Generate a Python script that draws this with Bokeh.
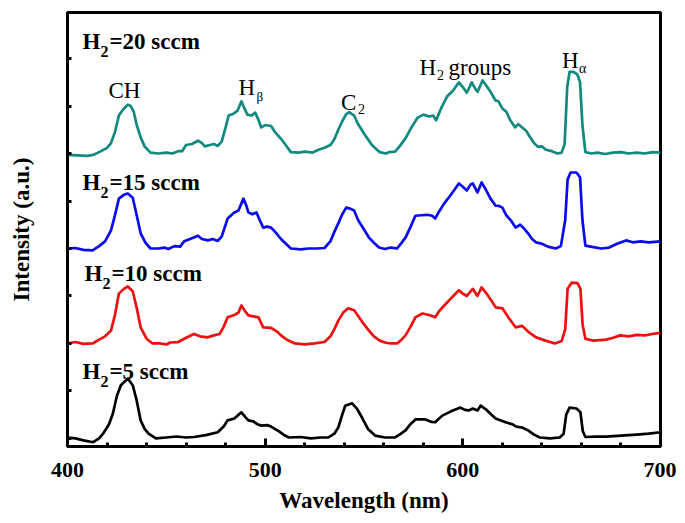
from bokeh.plotting import figure
from bokeh.models import Range1d, FixedTicker, Label
from bokeh.embed import file_html
from bokeh.resources import INLINE

# ---------------- data ----------------
wl_20 = [400, 405, 410, 413, 417, 420, 422, 424, 426, 428, 430.5, 432, 433.5, 435, 437, 439, 442, 446, 450, 453,
         456, 458, 460, 463, 466, 468, 469.5, 472, 474, 476, 478, 480, 481.5, 484, 486, 488, 489.5, 491, 493, 495,
         496.5, 498, 500, 503, 505, 508, 510, 513, 517, 520, 524, 527, 530, 533, 535, 537, 539, 541, 542.5, 545,
         547, 550, 552, 554, 556, 558, 561, 563, 565.7, 568, 571, 574, 577, 580, 583, 585, 586.5, 589, 592, 595,
         598, 600, 602, 604.5, 606.5, 607.5, 610, 612, 614, 616.5, 618, 620, 622, 624, 626.5, 628, 630, 632, 634,
         636, 638, 640, 642, 645, 648, 650, 651.5, 652.8, 654, 656, 658, 659.3, 660.5, 662, 665, 668, 672, 676,
         680, 684, 688, 692, 696, 700]
int_20 = [5.97, 5.96, 5.95, 5.97, 6.05, 6.12, 6.22, 6.45, 6.8, 6.92, 7.03, 7.0, 6.88, 6.6, 6.34, 6.15, 6.02, 6.0,
          6.02, 6.0, 6.05, 6.05, 6.18, 6.2, 6.27, 6.22, 6.15, 6.18, 6.2, 6.16, 6.25, 6.55, 6.8, 6.84, 6.9, 7.1,
          6.95, 6.82, 6.8, 6.86, 6.72, 6.55, 6.6, 6.58, 6.45, 6.31, 6.2, 6.03, 6.02, 6.04, 6.02, 6.08, 6.12, 6.18,
          6.3, 6.5, 6.68, 6.83, 6.87, 6.8, 6.62, 6.42, 6.3, 6.18, 6.1, 6.03, 6.0, 6.03, 6.04, 6.15, 6.32, 6.55,
          6.75, 6.82, 6.78, 6.8, 6.7, 6.95, 7.2, 7.32, 7.5, 7.4, 7.28, 7.5, 7.35, 7.3, 7.54, 7.42, 7.3, 7.12, 7.1,
          6.95, 6.88, 6.7, 6.55, 6.62, 6.55, 6.48, 6.35, 6.22, 6.14, 6.15, 6.08, 6.05, 6.0, 6.02, 6.2, 7.4, 7.72,
          7.72, 7.66, 7.5, 6.6, 6.03, 6.0, 6.02, 5.99, 6.02, 6.03, 6.0, 6.02, 6.0, 6.03, 6.02]

wl_15 = [400, 404, 408, 412.7, 416, 419, 422, 424, 426, 428.5, 430.5, 433, 435, 437, 439.5, 442, 446, 449, 451,
         454, 457, 459, 462, 466, 468, 471, 473.5, 476, 478, 481, 484.4, 486.5, 489, 490.5, 491.5, 493.5, 495.6,
         497, 499, 501, 503, 505.5, 508, 510.5, 513, 518, 522, 526, 530, 533, 535, 537, 539, 541, 543, 545, 547,
         550, 552.5, 555, 557.6, 560.6, 563.5, 566.7, 569, 571, 573.5, 576, 579, 582, 584.5, 586, 588, 590.6,
         593, 595.5, 598, 600, 602, 604, 605, 607.4, 609.5, 611.5, 614, 616.6, 618, 620, 622, 624.5, 626.7, 629,
         631, 633, 635, 637, 640, 643, 647, 649.6, 651.8, 653, 654.5, 657.5, 659.3, 660.5, 662, 666, 670, 674,
         678, 682.6, 686, 690, 694, 700]
int_15 = [4.0, 4.01, 3.97, 3.96, 4.05, 4.15, 4.38, 4.7, 5.05, 5.13, 5.16, 5.07, 4.7, 4.32, 4.12, 4.0, 4.0, 4.02,
          3.99, 4.05, 4.04, 4.15, 4.2, 4.27, 4.2, 4.17, 4.2, 4.16, 4.25, 4.63, 4.76, 4.8, 5.05, 4.9, 4.76, 4.72,
          4.76, 4.62, 4.44, 4.46, 4.44, 4.33, 4.2, 4.1, 4.0, 3.98, 4.0, 4.0, 4.01, 4.15, 4.35, 4.53, 4.72, 4.86,
          4.84, 4.8, 4.6, 4.4, 4.23, 4.12, 4.02, 3.99, 4.02, 4.0, 4.12, 4.23, 4.45, 4.69, 4.7, 4.71, 4.69, 4.63,
          4.78, 4.95, 5.08, 5.22, 5.37, 5.3, 5.22, 5.35, 5.37, 5.18, 5.39, 5.25, 5.05, 4.9, 4.9, 4.86, 4.7, 4.58,
          4.44, 4.5, 4.42, 4.32, 4.2, 4.13, 4.1, 4.04, 4.0, 4.05, 4.6, 5.45, 5.6, 5.6, 5.5, 4.6, 4.06, 4.03, 4.0,
          4.02, 4.1, 4.17, 4.13, 4.15, 4.13, 4.15]

wl_10 = [400, 404, 408, 412.7, 416, 419, 422, 424, 426, 428.5, 430.5, 433, 435, 437, 440, 443, 447, 450, 452,
         456, 460, 464, 467, 471, 474, 477, 479, 481, 484.4, 486.5, 488, 490, 491.5, 494, 496.6, 499, 503, 506,
         508, 511, 515, 520, 525, 530, 533, 535, 537, 539.5, 542, 545, 547.5, 550, 552.5, 555, 558, 560.6, 563.5,
         566.7, 569, 571, 573.5, 576, 579.5, 583, 586, 588, 590.6, 594, 598, 600, 602, 605, 607.4, 609.5, 612,
         614.5, 616.6, 620, 623, 626.7, 630, 633, 637, 641, 646.6, 650, 651.8, 653, 655, 658, 659.5, 660.6, 662,
         666, 672.5, 676, 679.6, 684, 688, 692, 696, 700]
int_10 = [2.0, 2.03, 1.99, 2.0, 2.08, 2.15, 2.27, 2.6, 3.05, 3.15, 3.2, 3.1, 2.75, 2.34, 2.1, 2.0, 2.0, 1.98,
          2.02, 2.03, 2.12, 2.2, 2.15, 2.13, 2.17, 2.2, 2.35, 2.55, 2.6, 2.65, 2.8, 2.67, 2.59, 2.57, 2.55, 2.34,
          2.33, 2.25, 2.17, 2.08, 2.0, 1.98, 2.0, 2.03, 2.15, 2.3, 2.48, 2.65, 2.74, 2.7, 2.55, 2.4, 2.27, 2.15,
          2.06, 2.02, 2.0, 2.0, 2.08, 2.17, 2.35, 2.55, 2.63, 2.6, 2.55, 2.68, 2.8, 2.95, 3.12, 3.05, 3.0, 3.15,
          3.0, 3.18, 3.05, 2.9, 2.76, 2.74, 2.55, 2.34, 2.37, 2.25, 2.13, 2.07, 2.0, 2.05, 2.3, 3.15, 3.28, 3.27,
          3.15, 2.4, 2.1, 2.06, 2.08, 2.12, 2.17, 2.15, 2.18, 2.17, 2.2, 2.22]

wl_5 = [400, 404, 408, 413, 416, 418, 421, 423, 425, 427, 430.5, 433, 435, 437, 439, 441, 444.7, 450, 455, 460,
        464, 470, 476, 479, 481, 484.4, 486, 488, 490, 491.5, 494, 496, 498, 501, 503, 507, 510, 512, 518, 523,
        528, 532, 535, 537, 539, 540.5, 544, 546.5, 549, 552, 555.6, 560.6, 565.7, 568, 571, 573.5, 576, 581,
        584, 586, 589.6, 594, 598.8, 601, 603, 605, 607.4, 609, 612, 614.5, 616.6, 621.6, 625, 627, 630, 633,
        636, 639, 644, 649, 651, 652.3, 654, 657.5, 659.5, 660.7, 662, 667, 672.5, 680, 688, 694, 700]
int_5 = [0.02, 0.0, -0.04, -0.08, 0.0, 0.1, 0.3, 0.53, 0.9, 1.12, 1.26, 1.12, 0.8, 0.38, 0.2, 0.1, 0.0, 0.02,
         0.04, 0.02, 0.03, 0.07, 0.13, 0.25, 0.38, 0.42, 0.48, 0.55, 0.45, 0.38, 0.36, 0.3, 0.27, 0.28, 0.25,
         0.15, 0.06, 0.02, 0.03, 0.0, 0.02, 0.02, 0.1, 0.23, 0.5, 0.69, 0.74, 0.62, 0.44, 0.2, 0.06, 0.02, 0.02,
         0.08, 0.17, 0.3, 0.4, 0.4, 0.35, 0.34, 0.48, 0.57, 0.65, 0.6, 0.59, 0.63, 0.59, 0.69, 0.6, 0.5, 0.42,
         0.34, 0.3, 0.25, 0.23, 0.17, 0.08, 0.02, 0.0, 0.02, 0.1, 0.5, 0.65, 0.63, 0.55, 0.15, 0.03, 0.04, 0.04,
         0.06, 0.08, 0.1, 0.13]

series_names = ["H2=20 sccm", "H2=15 sccm", "H2=10 sccm", "H2=5 sccm"]
series_colors = ["#12897f", "#0a0aee", "#ee1010", "#000000"]
x_ticks = [400, 500, 600, 700]
x_minor = [420, 440, 460, 480, 520, 540, 560, 580, 620, 640, 660, 680]
y_ticks = [0, 1, 2, 3, 4, 5, 6, 7, 8]

# ---------------- figure ----------------
X0, X1 = 400, 700
Y0, Y1 = -0.17, 8.97
FL, FT = 67, 12          # frame left / top in page pixels
FW, FH = 593, 434

p = figure(output_backend="svg", toolbar_location=None,
           frame_width=FW, frame_height=FH,
           x_range=Range1d(X0, X1), y_range=Range1d(Y0, Y1),
           min_border_left=FL, min_border_top=FT, min_border_right=16, min_border_bottom=72)
p.background_fill_color = "white"
p.border_fill_color = "white"
p.grid.visible = False
p.outline_line_color = "black"
p.outline_line_alpha = 1.0
p.outline_line_width = 3

for xs, ys, c in [(wl_20, int_20, series_colors[0]), (wl_15, int_15, series_colors[1]),
                  (wl_10, int_10, series_colors[2]), (wl_5, int_5, series_colors[3])]:
    p.line(xs, ys, line_color=c, line_width=2.7, line_join="round")

FONT = "Liberation Serif"

ax = p.xaxis[0]
ax.ticker = FixedTicker(ticks=x_ticks, minor_ticks=x_minor)
ax.axis_line_color = "black"
ax.axis_line_width = 3
ax.major_tick_line_color = "black"
ax.minor_tick_line_color = "black"
ax.major_tick_in = 8
ax.major_tick_out = 0
ax.major_tick_line_width = 3
ax.minor_tick_in = 4
ax.minor_tick_out = 0
ax.minor_tick_line_width = 3
ax.major_label_text_color = "black"
ax.major_label_text_font = FONT
ax.major_label_text_font_style = "bold"
ax.major_label_text_font_size = "22px"
ax.major_label_standoff = 16
ax.axis_label = "Wavelength (nm)"
ax.axis_label_text_color = "black"
ax.axis_label_text_font = FONT
ax.axis_label_text_font_style = "bold"
ax.axis_label_text_font_size = "23px"
ax.axis_label_standoff = 8

ay = p.yaxis[0]
ay.ticker = FixedTicker(ticks=y_ticks, minor_ticks=[])
ay.axis_line_color = "black"
ay.axis_line_width = 3
ay.major_tick_line_color = "black"
ay.major_tick_in = 4
ay.major_tick_out = 0
ay.major_tick_line_width = 3
ay.major_label_overrides = {t: "" for t in y_ticks}
ay.major_label_standoff = 0
ay.axis_label = "Intensity (a.u.)"
ay.axis_label_text_color = "black"
ay.axis_label_text_font = FONT
ay.axis_label_text_font_style = "bold"
ay.axis_label_text_font_size = "23px"
ay.axis_label_standoff = 34


# page-pixel -> data helpers for annotation placement
def dx(px):
    return X0 + (px - FL) * (X1 - X0) / FW


def dy(py):
    return Y0 + (FT + FH - py) * (Y1 - Y0) / FH


def lab(text, px, py, size, bold=False, baseline="alphabetic"):
    p.add_layout(Label(x=dx(px), y=dy(py), text=text, text_font=FONT,
                       text_font_size=f"{size}px",
                       text_font_style="bold" if bold else "normal",
                       text_align="left", text_baseline=baseline,
                       text_color="black"))


# series labels  H2=.. sccm
for name, lx, base in zip(series_names, [82, 82, 84, 82], [40.7, 181.7, 273.3, 371]):
    rest = name[2:]
    lab("H", lx, base, 23, bold=True)
    lab("2", lx + 18, base + 10, 16, bold=True)
    lab(rest, lx + 27, base, 23, bold=True)

# peak labels
lab("CH", 108, 90, 23)
lab("H", 238, 86.7, 23)
lab("\u03b2", 256, 96, 13)
lab("C", 340.5, 101.7, 23)
lab("2", 357.5, 108, 14)
lab("H", 419, 66.7, 23)
lab("2", 436.5, 74, 14)
lab("groups", 448, 66.7, 23)
lab("H", 561.5, 60, 23)
lab("\u03b1", 578.5, 68, 14)

open("out.html", "w").write(file_html(p, INLINE))
